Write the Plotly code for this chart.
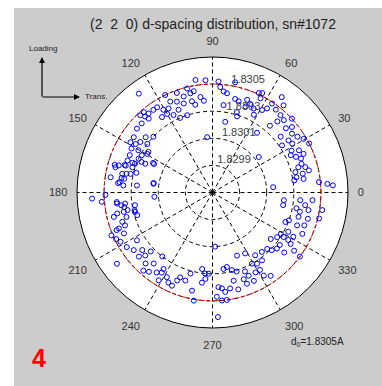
import plotly.graph_objects as go

# Measured d-spacing for the (2 2 0) reflection versus in-plane angle (deg)
theta_deg = [
    98.6, 93.6, 103.7, 100.5, 109.7, 106.7, 102.6, 97.2, 95.4, 102.7, 101.1, 115.9, 123.0, 120.7,
    117.6, 111.4, 112.3, 116.7, 120.0, 123.8, 125.6, 129.0, 130.5, 133.1, 131.6, 113.5, 108.2,
    126.7, 95.5, 135.7, 144.9, 148.5, 147.7, 145.0, 151.5, 150.3, 140.4, 143.3, 136.7, 147.6,
    152.3, 155.4, 155.7, 159.4, 159.6, 156.8, 154.0, 162.5, 162.8, 163.9, 165.4, 168.3, 167.7,
    167.2, 171.2, 171.5, 173.6, 175.5, 174.7, 171.6, 149.4, 156.7, 130.8, 114.9, 107.9, 139.8,
    174.3, 170.9, 164.2, 162.6, 159.6, 165.5, 153.6, 170.8,
    182.9, 184.8, 186.6, 187.2, 189.3, 192.4, 192.3, 195.9, 198.0, 200.6, 201.0, 204.8, 203.0,
    205.8, 208.2, 212.5, 212.3, 216.2, 219.3, 223.1, 221.1, 223.7, 216.7, 226.7, 230.4, 231.9,
    231.3, 235.1, 237.4, 238.5, 241.7, 243.9, 246.5, 248.1, 249.2, 252.9, 258.2, 260.2, 254.8,
    262.3, 265.3, 267.4, 184.2, 192.9, 196.7, 228.5, 237.6, 188.0, 193.9, 191.7,
    181.3, 185.7, 189.4, 194.1, 201.4, 263.3, 264.7,
    272.5, 275.0, 277.6, 272.4, 275.6, 280.4, 277.3, 283.5, 289.8, 284.9, 293.5, 295.1, 290.7,
    292.4, 298.3, 301.5, 301.7, 304.9, 302.0, 306.1, 299.0, 280.9, 284.0, 278.2, 304.2, 309.7,
    314.1, 315.8, 319.0, 322.1, 321.4, 320.1, 324.5, 323.7, 328.8, 328.0, 327.9, 332.6, 326.7,
    338.0, 340.0, 338.8, 335.3, 344.2, 347.6, 349.6, 344.6, 340.3, 353.8, 349.9, 355.0, 355.6,
    352.2, 272.8, 291.2, 298.2, 273.6, 287.0, 325.4, 331.3, 346.3, 350.9, 349.4,
    86.9, 83.7, 81.7, 78.4, 82.8, 76.4, 74.0, 69.0, 67.0, 65.0, 63.0, 59.0, 57.0, 62.0, 72.1,
    79.8, 56.2, 52.6, 50.8, 48.7, 49.3, 47.6, 45.4, 42.9, 41.2, 39.3, 39.5, 36.5, 33.3, 34.1,
    31.5, 27.9, 26.0, 30.5, 26.9, 23.1, 21.0, 17.8, 16.4, 15.3, 11.8, 12.9, 13.8, 8.5, 8.4, 5.6,
    4.3, 3.4, 5.0, 37.5, 73.1, 69.5, 63.9, 34.4, 25.5, 23.0, 63.4, 54.0, 10.3, 85.8, 53.3,
]
d_spacing = [
    1.83054, 1.83053, 1.83049, 1.83046, 1.83048, 1.83044, 1.83045, 1.83041, 1.83038, 1.83039,
    1.83036, 1.83050, 1.83045, 1.83041, 1.83040, 1.83042, 1.83036, 1.83034, 1.83037, 1.83037,
    1.83045, 1.83045, 1.83048, 1.83048, 1.83045, 1.83030, 1.83030, 1.83061, 1.83011, 1.83043,
    1.83041, 1.83041, 1.83037, 1.83035, 1.83038, 1.83033, 1.83034, 1.83030, 1.83030, 1.83026,
    1.83029, 1.83030, 1.83037, 1.83037, 1.83031, 1.83024, 1.83018, 1.83032, 1.83037, 1.83042,
    1.83044, 1.83038, 1.83035, 1.83032, 1.83036, 1.83046, 1.83039, 1.83036, 1.83026, 1.83014,
    1.83026, 1.83027, 1.83042, 1.83044, 1.83039, 1.83043,
    1.83040, 1.83038, 1.83045, 1.83038, 1.83033, 1.83028, 1.83019, 1.83014,
    1.83059, 1.83052, 1.83041, 1.83035, 1.83028, 1.83042, 1.83037, 1.83036, 1.83040, 1.83039,
    1.83044, 1.83042, 1.83051, 1.83049, 1.83047, 1.83045, 1.83036, 1.83042, 1.83037, 1.83038,
    1.83042, 1.83033, 1.83058, 1.83042, 1.83038, 1.83030, 1.83045, 1.83042, 1.83037, 1.83046,
    1.83041, 1.83044, 1.83045, 1.83040, 1.83037, 1.83038, 1.83044, 1.83051, 1.83032, 1.83027,
    1.83034, 1.83030, 1.83013, 1.83029, 1.83028, 1.83047, 1.83040, 1.83038, 1.83045, 1.83034,
    1.83049, 1.83041, 1.83036, 1.83029, 1.83046, 1.83037, 1.83030,
    1.83062, 1.83050, 1.83050, 1.83047, 1.83041, 1.83042, 1.83044, 1.83037, 1.83038, 1.83044,
    1.83037, 1.83042, 1.83042, 1.83033, 1.83037, 1.83037, 1.83042, 1.83045, 1.83032, 1.83032,
    1.83030, 1.83026, 1.83029, 1.83027, 1.83026, 1.83027, 1.83028, 1.83031, 1.83033, 1.83033,
    1.83025, 1.83039, 1.83044, 1.83050, 1.83029, 1.83032, 1.83036, 1.83033, 1.83039, 1.83028,
    1.83030, 1.83037, 1.83043, 1.83036, 1.83036, 1.83042, 1.83043, 1.83042, 1.83023, 1.83023,
    1.83035, 1.83044, 1.83039, 1.83010, 1.83020, 1.83021, 1.83040, 1.83031, 1.83028, 1.83038,
    1.83051, 1.83052, 1.83033,
    1.83052, 1.83045, 1.83044, 1.83053, 1.83035, 1.83041, 1.83040, 1.83038, 1.83041, 1.83051,
    1.83048, 1.83041, 1.83044, 1.83035, 1.83029, 1.83023, 1.83049, 1.83047, 1.83053, 1.83046,
    1.83035, 1.83041, 1.83045, 1.83050, 1.83042, 1.83035, 1.83046, 1.83043, 1.83045, 1.83032,
    1.83039, 1.83036, 1.83041, 1.83048, 1.83050, 1.83037, 1.83040, 1.83039, 1.83036, 1.83041,
    1.83038, 1.83043, 1.83033, 1.83038, 1.83031, 1.83049, 1.83055, 1.83059, 1.83015, 1.83013,
    1.83032, 1.83043, 1.83039, 1.83038, 1.83034, 1.83043, 1.83052, 1.83057, 1.83033, 1.83048,
    1.83025,
]

# Reference (stress-free) spacing and radial axis settings
d0 = 1.8305
r_min, r_max = 1.8297, 1.8307
ring_values = [1.8299, 1.8301, 1.8303, 1.8305]
ring_labels = ["1.8299", "1.8301", "1.8303", "1.8305"]
angle_ticks = list(range(0, 360, 30))

W, H = 382, 386
BG = "#cccccc"
FONT = "Liberation Sans, Arial"


def px(x):
    return x / W


def py(y):
    return 1 - y / H


def label(text, x, y, size, color="#222222"):
    return dict(text=text, x=px(x), y=py(y), xref="paper", yref="paper", showarrow=False,
                xanchor="center", yanchor="middle",
                font=dict(family=FONT, size=size, color=color))


def arrow(x_tip, y_tip, ax, ay):
    return dict(x=px(x_tip), y=py(y_tip), xref="paper", yref="paper", ax=ax, ay=ay, text="",
                showarrow=True, arrowhead=2, arrowsize=1, arrowwidth=1.2, arrowcolor="black")


fig = go.Figure()

# d0 reference circle
circle_theta = [i * 2 for i in range(181)]
fig.add_trace(go.Scatterpolar(
    theta=circle_theta, r=[d0] * len(circle_theta), mode="lines",
    line=dict(color="red", width=1, dash="3px,2px"), hoverinfo="skip", showlegend=False,
))

# measured points
fig.add_trace(go.Scatterpolar(
    theta=theta_deg, r=d_spacing, mode="markers",
    marker=dict(symbol="circle-open", size=5, color="#0000ff", line=dict(width=1)),
    showlegend=False,
))

# radial ring labels
fig.add_trace(go.Scatterpolar(
    theta=[80] * len(ring_values), r=ring_values, mode="text", text=ring_labels,
    textposition="top right", textfont=dict(family=FONT, size=11, color="#404040"),
    hoverinfo="skip", showlegend=False,
))

fig.update_layout(
    width=W, height=H,
    margin=dict(l=0, r=0, t=0, b=0),
    paper_bgcolor=BG,
    polar=dict(
        domain=dict(x=[px(77), px(348)], y=[py(328), py(57)]),
        bgcolor="white",
        radialaxis=dict(
            range=[r_min, r_max], tickvals=ring_values, showticklabels=False,
            ticks="", showline=False, gridcolor="black", griddash="4px,3px", gridwidth=1,
        ),
        angularaxis=dict(
            rotation=0, direction="counterclockwise", tickvals=angle_ticks,
            ticktext=[str(a) for a in angle_ticks], ticks="outside", ticklen=7,
            tickcolor="rgba(0,0,0,0)", showline=True, linecolor="black", linewidth=1,
            gridcolor="black", griddash="4px,3px", gridwidth=1,
            tickfont=dict(family=FONT, size=11, color="#333333"),
        ),
    ),
    shapes=[
        # white margin strips along the left and top edges
        dict(type="rect", xref="paper", yref="paper", x0=0, x1=px(14), y0=0, y1=1,
             fillcolor="white", line=dict(width=0), layer="below"),
        dict(type="rect", xref="paper", yref="paper", x0=0, x1=1, y0=py(8), y1=1,
             fillcolor="white", line=dict(width=0), layer="below"),
    ],
    annotations=[
        label("(2  2  0) d-spacing distribution, sn#1072", 213, 24, 14),
        # sample-frame direction glyph
        arrow(42, 57, 0, 41),
        arrow(80, 97, -39, 0),
        label("Loading", 43, 48, 8),
        label("Trans.", 96, 96, 8),
        label("d<sub>0</sub>=1.8305A", 317, 342, 10),
        label("<b>4</b>", 39, 358, 25, "red"),
    ],
)

fig.write_html("out.html")
